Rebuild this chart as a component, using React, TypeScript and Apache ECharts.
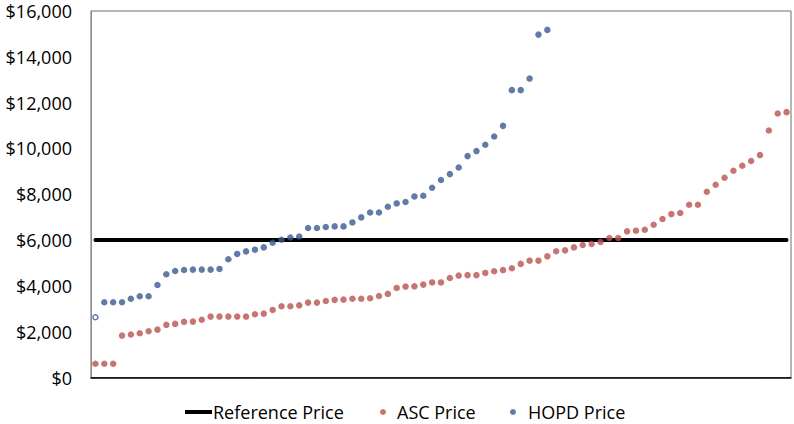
import React, { useEffect, useRef } from "react";
import * as echarts from "echarts";

const referencePrice = 6000;

const ascPrice = [
  600, 600, 600, 1830, 1875, 1930, 2020, 2090, 2300, 2340,
  2430, 2440, 2520, 2660, 2660, 2660, 2660, 2660, 2760, 2790,
  2950, 3110, 3110, 3150, 3270, 3270, 3340, 3390, 3400, 3440,
  3440, 3460, 3560, 3650, 3910, 3970, 3980, 4055, 4150, 4150,
  4345, 4450, 4470, 4470, 4565, 4640, 4690, 4770, 4960, 5100,
  5100, 5290, 5510, 5550, 5680, 5785, 5830, 5915, 6090, 6090,
  6380, 6410, 6450, 6670, 6920, 7135, 7180, 7540, 7540, 8110,
  8415, 8720, 9025, 9245, 9450, 9710, 10785, 11525, 11585,
];

const hopdPrice = [
  2630, 3285, 3285, 3285, 3440, 3545, 3545, 4040, 4505, 4650,
  4695, 4710, 4710, 4710, 4740, 5160, 5395, 5505, 5580, 5680,
  5885, 6015, 6110, 6155, 6527, 6527, 6570, 6597, 6597, 6770,
  6990, 7205, 7205, 7455, 7600, 7660, 7905, 7935, 8285, 8620,
  8880, 9170, 9665, 9885, 10160, 10520, 10985, 12545, 12545, 13050,
  14970, 15175,
];

const yTicks = { min: 0, max: 16000, interval: 2000 };

const categories = ascPrice.map((_, i) => String(i + 1));

const ASC_COLOR = "#b9524f";
const HOPD_COLOR = "#3a5a91";
const FONT = "'Open Sans', 'Noto Sans', sans-serif";

export default function App() {
  const ref = useRef<HTMLDivElement>(null);

  useEffect(() => {
    if (!ref.current) return;
    const chart = echarts.init(ref.current, undefined, { renderer: "svg" });
    const legendText = { fontFamily: FONT, fontSize: 18, color: "#000" };
    chart.setOption({
      animation: false,
      backgroundColor: "#fff",
      grid: {
        left: 91,
        right: 3,
        top: 11,
        bottom: 46.5,
        show: true,
        borderColor: "#6f6f6f",
        borderWidth: 1,
        containLabel: false,
      },
      legend: [
        {
          data: [{ name: "Reference Price", icon: "rect" }],
          left: 180,
          top: 398,
          itemWidth: 27,
          itemHeight: 4,
          textStyle: { ...legendText, padding: [0, 0, 0, -4] },
          selectedMode: false,
        },
        {
          data: [{ name: "ASC Price", icon: "circle" }],
          left: 375,
          top: 398,
          itemWidth: 6,
          itemHeight: 6,
          textStyle: { ...legendText, padding: [0, 0, 0, 6] },
          selectedMode: false,
        },
        {
          data: [{ name: "HOPD Price", icon: "circle" }],
          left: 505,
          top: 398,
          itemWidth: 6,
          itemHeight: 6,
          textStyle: { ...legendText, padding: [0, 0, 0, 7] },
          selectedMode: false,
        },
      ],
      xAxis: {
        type: "category",
        data: categories,
        boundaryGap: true,
        axisLine: { show: true, lineStyle: { color: "#000", width: 1.5 } },
        axisTick: { show: false },
        axisLabel: { show: false },
        splitLine: { show: false },
      },
      yAxis: {
        type: "value",
        min: yTicks.min,
        max: yTicks.max,
        interval: yTicks.interval,
        axisLine: { show: true, lineStyle: { color: "#8a8a8a", width: 1 } },
        axisTick: { show: false },
        splitLine: { show: false },
        axisLabel: {
          margin: 19,
          fontFamily: FONT,
          fontSize: 18,
          lineHeight: 18,
          color: "#000",
          formatter: (v: number) => "$" + v.toLocaleString("en-US"),
        },
      },
      series: [
        {
          name: "Reference Price",
          type: "line",
          data: categories.map(() => referencePrice),
          symbol: "none",
          lineStyle: { color: "#000", width: 4, cap: "round" },
          itemStyle: { color: "#000" },
          z: 3,
        },
        {
          name: "ASC Price",
          type: "scatter",
          data: ascPrice,
          symbol: "circle",
          symbolSize: 6.5,
          itemStyle: { color: ASC_COLOR },
          z: 4,
        },
        {
          name: "HOPD Price",
          type: "scatter",
          data: hopdPrice.map((v, i) =>
            i === 0
              ? {
                  value: v,
                  itemStyle: { color: "#fff", borderColor: HOPD_COLOR, borderWidth: 1.5 },
                  symbolSize: 5,
                }
              : v
          ),
          symbol: "circle",
          symbolSize: 6.5,
          itemStyle: { color: HOPD_COLOR },
          z: 4,
        },
      ],
    });
    return () => chart.dispose();
  }, []);

  return <div ref={ref} style={{ width: 794, height: 424, position: "absolute", left: 0, top: 0 }} />;
}
